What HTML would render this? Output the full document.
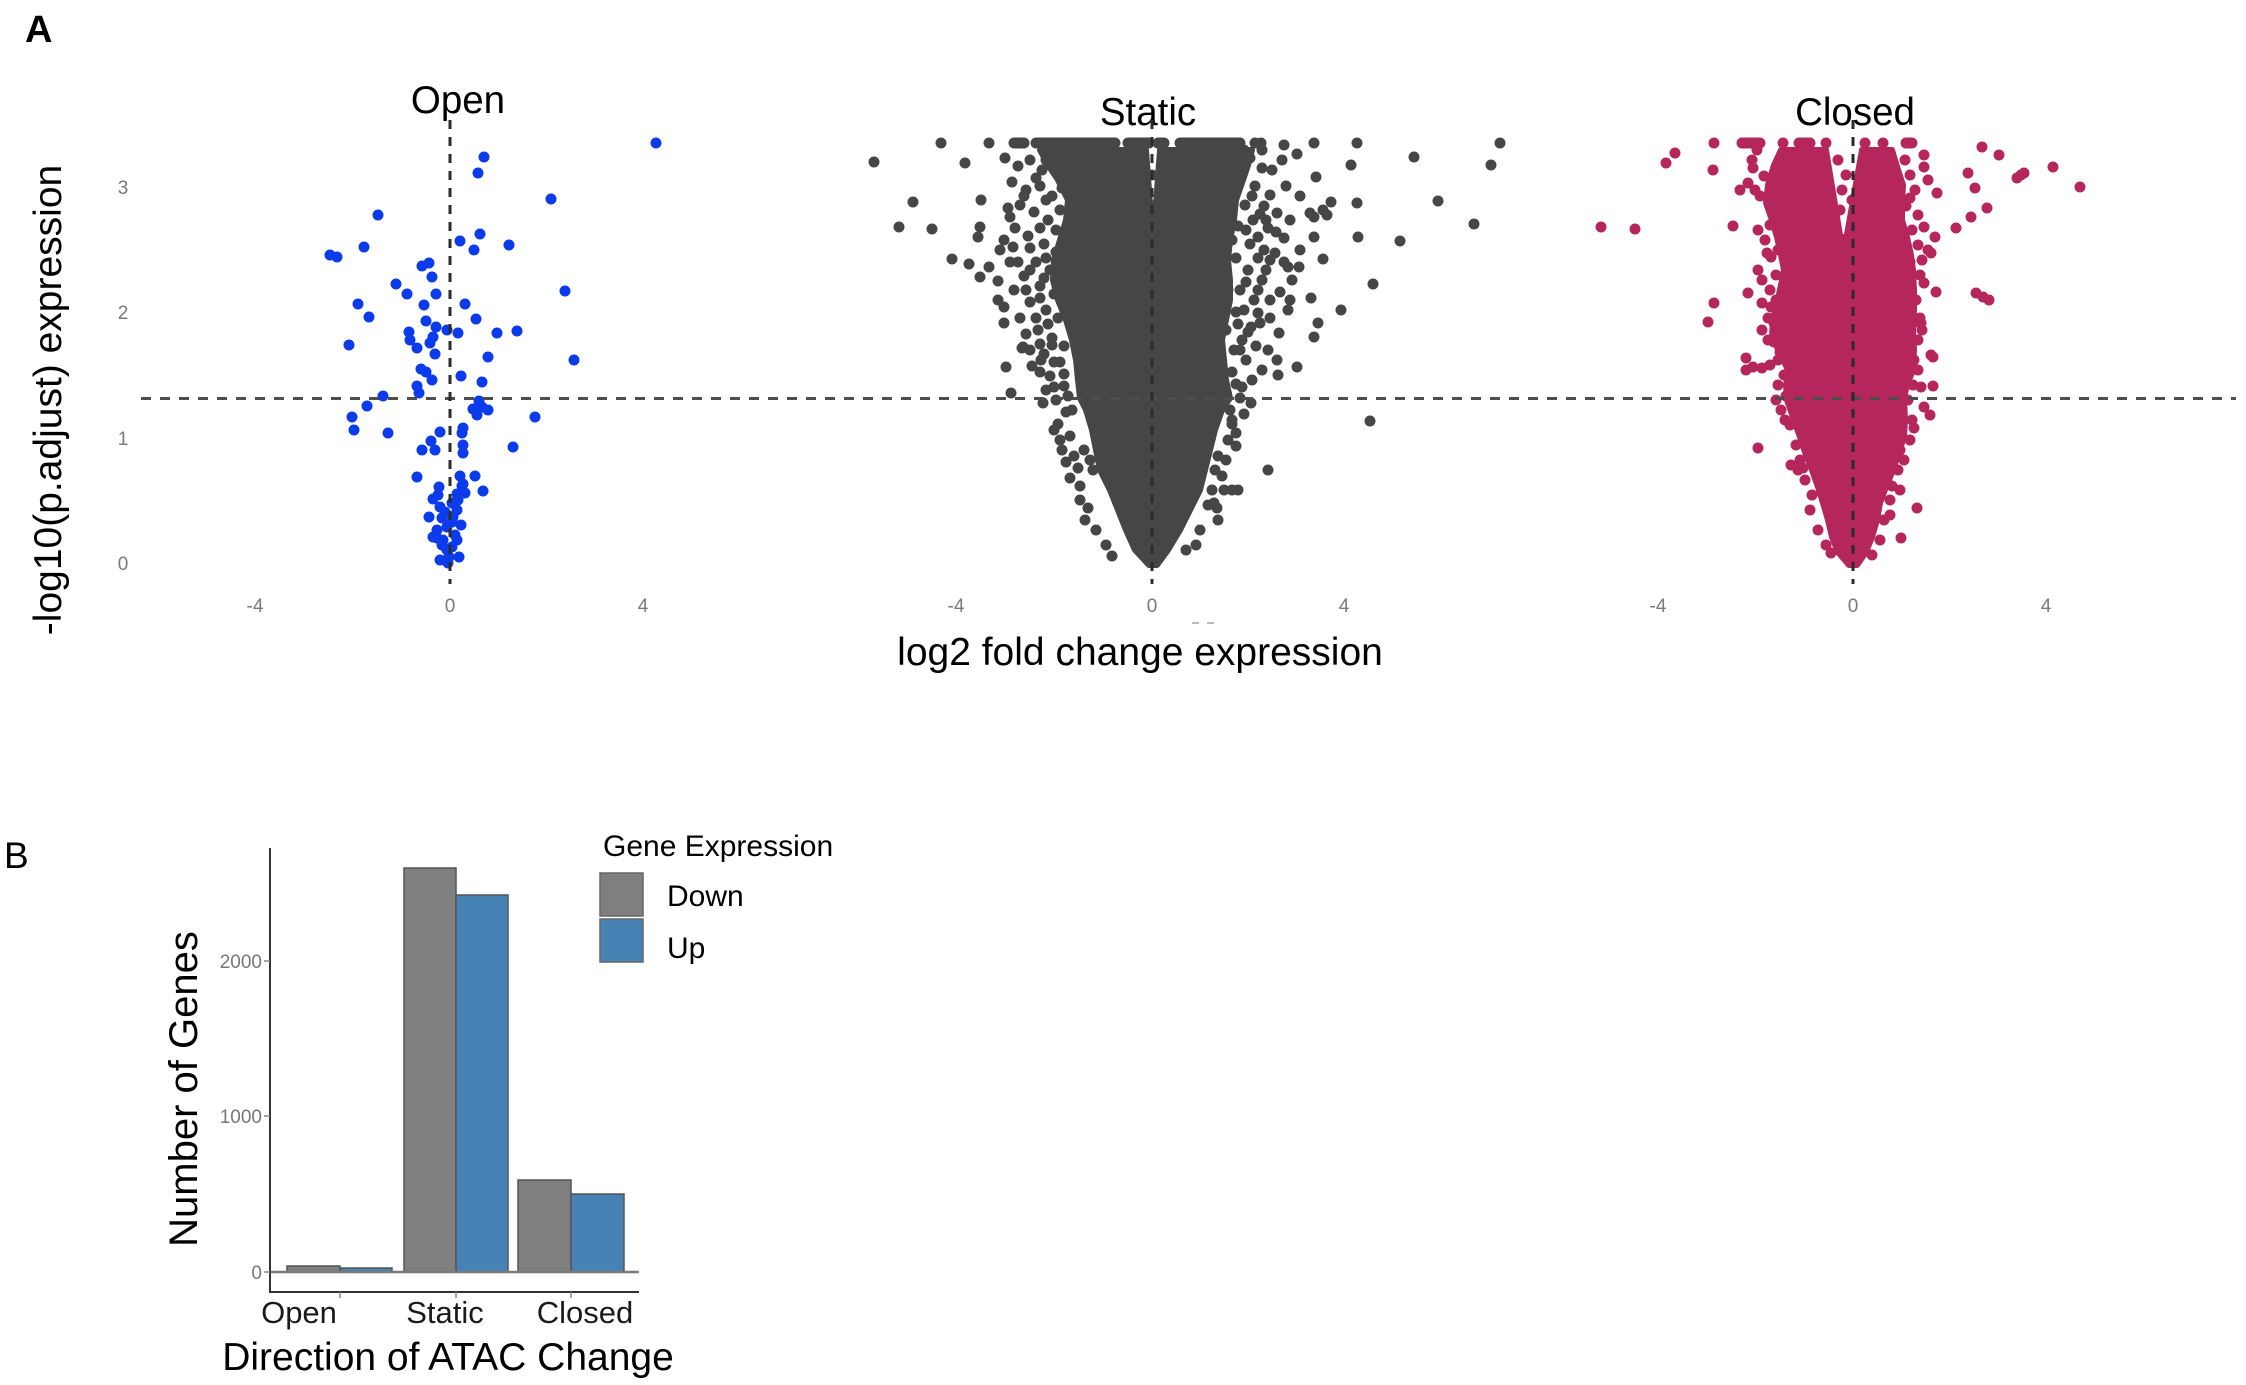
<!DOCTYPE html>
<html>
<head>
<meta charset="utf-8">
<style>
html,body{margin:0;padding:0;background:#fff;}
svg{display:block;}
text{font-family:"Liberation Sans",Arial,sans-serif;}
</style>
</head>
<body>
<svg width="2246" height="1385" viewBox="0 0 2246 1385" xmlns="http://www.w3.org/2000/svg">
<rect x="0" y="0" width="2246" height="1385" fill="#fff"/>

<!-- Panel labels -->
<text x="25" y="42" font-size="38" font-weight="bold" fill="#000">A</text>
<text x="4" y="868" font-size="37" fill="#000">B</text>

<!-- ================= PANEL A ================= -->
<text transform="translate(61,400) rotate(-90)" text-anchor="middle" font-size="39" fill="#000">-log10(p.adjust) expression</text>
<g font-size="19" fill="#7a7a7a" text-anchor="middle">
<text x="123" y="194">3</text>
<text x="123" y="319">2</text>
<text x="123" y="445">1</text>
<text x="123" y="570">0</text>
</g>
<g font-size="19" fill="#7a7a7a" text-anchor="middle">
<text x="255" y="612">-4</text><text x="450" y="612">0</text><text x="643" y="612">4</text>
<text x="956" y="612">-4</text><text x="1152" y="612">0</text><text x="1344" y="612">4</text>
<text x="1658" y="612">-4</text><text x="1853" y="612">0</text><text x="2046" y="612">4</text>
</g>
<g font-size="38.5" fill="#000" text-anchor="middle">
<text x="458" y="113">Open</text>
<text x="1148" y="125">Static</text>
<text x="1855" y="125">Closed</text>
</g>
<text x="1140" y="665" font-size="39" fill="#000" text-anchor="middle">log2 fold change expression</text>
<path d="M1192 623H1199M1207 623H1214" stroke="#bbb" stroke-width="2"/>

<!-- OPEN points -->
<path fill="none" stroke="#0b3bea" stroke-width="11" stroke-linecap="round" d="
M656 143h0M484 157h0M478 173h0M551 199h0M378 215h0M480 234h0M460 241h0M509 245h0M474 250h0M364 247h0
M330 255h0M337 257h0M422 266h0M429 263h0M432 277h0M396 284h0M407 294h0M436 294h0M565 291h0M358 304h0
M424 305h0M465 304h0M369 317h0M476 319h0M426 321h0M436 327h0M409 332h0M447 330h0M458 333h0M497 333h0
M517 331h0M410 340h0M433 337h0M430 343h0M349 345h0M417 348h0M435 354h0M488 357h0M574 360h0M421 369h0
M426 372h0M432 380h0M461 376h0M482 382h0M417 386h0M419 393h0M383 396h0M479 401h0M473 409h0M482 407h0
M488 410h0M477 415h0M367 406h0M352 417h0M535 417h0M354 430h0M388 433h0M440 432h0M463 428h0M462 433h0
M431 441h0M422 450h0M435 450h0M463 445h0M463 453h0M513 447h0M417 477h0M460 476h0M475 476h0M439 487h0
M463 484h0M457 494h0M465 493h0M483 491h0M433 499h0M440 507h0M457 510h0M429 517h0M442 518h0M453 517h0
M461 525h0M447 527h0M433 537h0M443 540h0M455 535h0M442 545h0M452 547h0M449 557h0M459 557h0M448 563h0
M437 530h0M452 503h0M458 500h0M437 538h0M457 540h0M445 512h0M438 495h0M452 522h0M447 550h0M462 486h0M440 560h0"/>

<!-- STATIC core -->
<path fill="#464646" stroke="#464646" stroke-width="6" stroke-linejoin="round" d="
M1040 150 L1146 150 L1153 245 L1160 150 L1252 150 L1248 165 L1243 180 L1236 200 L1234 220 L1230 240 L1228 260 L1230 280 L1230 300 L1226 320 L1222 340 L1224 360 L1226 380 L1230 398 L1222 410 L1215 430 L1210 450 L1205 470 L1200 490 L1190 510 L1180 530 L1168 550 L1157 565 L1149 565 L1135 550 L1126 530 L1118 510 L1110 490 L1100 470 L1096 450 L1092 430 L1086 410 L1080 398 L1078 380 L1076 360 L1072 340 L1066 320 L1058 300 L1053 280 L1054 260 L1060 240 L1066 220 L1068 200 L1058 180 L1048 165 Z"/>
<!-- STATIC scattered points -->
<path fill="none" stroke="#464646" stroke-width="11" stroke-linecap="round" d="
M1014 143H1024M1036 143H1115M1128 143H1149M1158 143H1164M1180 143H1240
M989 143h0M1255 143h0M1261 143h0M941 143h0M1284 145h0
M874 162h0M965 163h0M913 202h0M981 200h0M899 227h0M932 229h0M952 259h0M969 264h0M980 277h0M989 267h0
M998 281h0M1010 217h0M980 227h0M978 237h0M1004 240h0M1013 247h0M1006 367h0M1011 393h0M1004 307h0M1004 323h0
M1023 347h0M1030 350h0M1041 360h0M1052 345h0M1054 387h0M1043 403h0M1054 430h0M1078 468h0M1084 450h0
M1314 143h0M1357 143h0M1500 143h0M1414 157h0M1491 165h0M1351 165h0M1297 154h0M1316 177h0M1438 201h0M1474 224h0
M1357 203h0M1358 237h0M1400 241h0M1314 217h0M1310 213h0M1323 210h0M1331 202h0M1327 215h0M1314 237h0M1323 259h0
M1373 284h0M1311 298h0M1341 310h0M1318 323h0M1314 337h0M1279 333h0M1292 280h0M1288 267h0M1299 267h0M1290 300h0
M1288 310h0M1277 360h0M1278 375h0M1262 370h0M1297 367h0M1370 421h0M1268 470h0M1232 490h0M1238 490h0M1214 503h0
M1217 508h0M1266 220h0M1277 213h0M1268 228h0M1253 220h0M1258 237h0M1264 250h0M1275 253h0M1284 238h0M1258 313h0
M1260 323h0M1251 327h0M1242 340h0M1242 387h0M1251 403h0M1232 420h0M1236 433h0
M1005 158h0M1018 166h0M1030 160h0M1042 170h0M1012 182h0M1026 190h0M1040 186h0M1052 196h0M1020 205h0M1034 212h0
M1048 220h0M1060 210h0M1015 228h0M1028 236h0M1044 244h0M1056 252h0M1036 262h0M1050 270h0M1024 276h0M1040 286h0
M1054 294h0M1030 302h0M1046 310h0M1058 318h0M1020 318h0M1038 330h0M1052 338h0M1064 346h0M1044 354h0M1060 362h0
M1032 366h0M1050 376h0M1064 386h0M1056 400h0M1066 412h0M1058 424h0M1070 436h0M1062 450h0M1008 208h0M1000 250h0
M1010 262h0M1014 290h0M998 300h0M1022 348h0M1070 298h0M1068 262h0M1066 230h0M1062 188h0M1064 168h0
M1072 410h0M1090 460h0M1080 500h0M1085 520h0M1093 470h0M1070 478h0
M1046 160h0M1058 172h0M1036 178h0M1024 196h0M1046 200h0M1056 230h0M1040 228h0M1030 248h0M1046 258h0M1018 262h0
M1030 270h0M1044 278h0M1026 290h0M1040 298h0M1036 318h0M1048 324h0M1026 334h0M1040 344h0M1054 362h0
M1040 372h0M1064 374h0M1068 396h0M1046 390h0M1060 440h0M1074 456h0M1066 462h0M1080 486h0M1088 508h0M1096 530h0
M1106 545h0M1112 556h0
M1250 158h0M1262 168h0M1240 176h0M1255 186h0M1270 195h0M1245 205h0M1260 214h0M1238 226h0M1250 244h0M1236 258h0
M1248 270h0M1262 280h0M1240 290h0M1254 300h0M1236 312h0M1248 332h0M1234 350h0M1246 360h0M1232 372h0M1240 398h0
M1230 410h0M1236 446h0M1226 460h0M1222 476h0M1270 300h0M1280 292h0M1266 270h0M1284 262h0M1300 250h0M1276 232h0
M1290 220h0M1300 196h0M1286 186h0M1272 170h0M1282 160h0M1262 150h0M1244 150h0M1228 190h0M1232 240h0M1228 290h0
M1226 330h0M1232 424h0M1215 470h0M1212 490h0M1208 505h0
M1252 196h0M1264 206h0M1246 230h0M1258 258h0M1270 260h0M1246 282h0M1258 290h0M1244 310h0M1270 318h0M1238 324h0
M1256 346h0M1240 350h0M1268 350h0M1252 380h0M1236 384h0M1244 414h0M1228 440h0M1218 456h0M1224 490h0M1218 520h0
M1200 530h0M1196 545h0M1186 550h0
M1152 175h0M1150 205h0"/>

<!-- CLOSED core -->
<path fill="#b5275c" stroke="#b5275c" stroke-width="6" stroke-linejoin="round" d="
M1781 150 L1826 150 L1840 235 L1846 240 L1862 150 L1892 150 L1898 170 L1903 185 L1902 203 L1902 220 L1907 237 L1911 255 L1913 270 L1914 290 L1914 310 L1913 330 L1914 350 L1913 370 L1907 385 L1904 398 L1905 420 L1904 437 L1898 455 L1893 470 L1886 487 L1880 503 L1877 520 L1872 537 L1866 552 L1857 565 L1849 565 L1838 552 L1832 537 L1828 520 L1823 503 L1818 487 L1812 470 L1806 455 L1800 437 L1794 420 L1787 400 L1786 385 L1788 370 L1781 355 L1772 337 L1773 320 L1777 303 L1781 285 L1784 270 L1781 255 L1777 237 L1772 220 L1766 203 L1768 185 L1774 165 Z"/>
<!-- CLOSED scattered points -->
<path fill="none" stroke="#b5275c" stroke-width="11" stroke-linecap="round" d="
M1742 143H1760M1799 143H1810M1906 143H1912
M1714 143h0M1783 143h0M1826 143h0M1865 143h0M1883 143h0
M1601 227h0M1635 229h0M1666 163h0M1675 153h0M1713 170h0M1733 226h0M1740 190h0M1755 190h0M1752 160h0M1753 168h0
M1982 147h0M1999 155h0M2053 167h0M2021 175h0M2024 173h0M2017 178h0M2080 187h0M1968 173h0M1975 188h0M1987 208h0
M1971 217h0M1956 228h0M1924 155h0M1924 167h0M1928 180h0M1937 193h0M1924 227h0M1935 237h0M1928 250h0M1931 253h0
M1924 283h0M1936 292h0M1976 293h0M1983 297h0M1989 300h0M1915 322h0M1921 323h0M1931 355h0M1933 357h0M1921 387h0
M1933 386h0M1924 407h0M1930 415h0M1914 428h0M1917 508h0M1901 538h0M1831 553h0M1758 448h0M1791 465h0M1803 468h0
M1714 303h0M1708 322h0M1748 293h0M1758 270h0M1767 253h0M1771 257h0M1746 358h0M1746 370h0M1753 367h0M1762 368h0
M1774 323h0M1774 342h0M1778 360h0M1776 400h0M1762 303h0M1771 307h0
M1757 150h0M1764 176h0M1748 183h0M1760 196h0M1772 212h0M1758 230h0M1765 240h0M1778 250h0M1762 280h0M1770 290h0
M1776 275h0M1783 330h0M1768 340h0M1784 375h0M1778 385h0M1781 410h0M1790 425h0M1796 445h0M1800 460h0M1805 480h0M1812 495h0
M1905 160h0M1910 175h0M1915 190h0M1906 206h0M1912 230h0M1918 245h0M1910 262h0M1920 275h0M1916 300h0M1918 340h0
M1914 360h0M1908 400h0M1912 420h0M1900 450h0M1898 470h0M1892 486h0M1890 500h0M1884 520h0
M1776 196h0M1770 225h0M1785 228h0M1790 262h0M1776 300h0M1768 318h0M1785 315h0M1762 330h0M1780 352h0M1770 365h0
M1786 396h0M1794 410h0M1785 420h0M1798 470h0M1810 510h0M1818 530h0M1826 545h0
M1910 198h0M1918 215h0M1922 260h0M1920 318h0M1922 330h0M1918 370h0M1913 385h0M1910 440h0M1904 460h0M1900 490h0
M1890 515h0M1880 540h0M1872 555h0
M1838 160h0M1846 175h0M1852 200h0M1840 210h0M1856 230h0M1848 250h0M1842 190h0"/>

<!-- dashed reference lines -->
<path d="M141 398.5H2236" stroke="#4d4d4d" stroke-width="3" stroke-dasharray="10 9" fill="none"/>
<path d="M450 120V584M1152 120V584M1853 120V584" stroke="#2b2b2b" stroke-width="3" stroke-dasharray="9 8" fill="none"/>

<!-- ================= PANEL B ================= -->
<g stroke="#555" stroke-width="1.5">
<rect x="287" y="1266" width="53" height="6" fill="#7f7f7f"/>
<rect x="340" y="1268" width="52" height="4" fill="#4682b4"/>
<rect x="404" y="868" width="52" height="404" fill="#7f7f7f"/>
<rect x="456" y="895" width="52" height="377" fill="#4682b4"/>
<rect x="518" y="1180" width="53" height="92" fill="#7f7f7f"/>
<rect x="571" y="1194" width="53" height="78" fill="#4682b4"/>
</g>
<path d="M270 1272H639" stroke="#7a7a7a" stroke-width="2.5"/>
<path d="M270 848V1292H639" stroke="#333" stroke-width="2" fill="none"/>
<path d="M264 961H270M264 1116H270M264 1272H270M340 1292V1298M456 1292V1298M571 1292V1298" stroke="#888" stroke-width="1.5"/>
<g font-size="19" fill="#777" text-anchor="end">
<text x="262" y="968">2000</text>
<text x="262" y="1123">1000</text>
<text x="262" y="1279">0</text>
</g>
<g font-size="31" fill="#1a1a1a" text-anchor="middle">
<text x="299" y="1323">Open</text>
<text x="445" y="1323">Static</text>
<text x="585" y="1323">Closed</text>
</g>
<text x="448" y="1370" font-size="39" fill="#000" text-anchor="middle">Direction of ATAC Change</text>
<text transform="translate(197,1089) rotate(-90)" text-anchor="middle" font-size="40" fill="#000">Number of Genes</text>

<text x="603" y="856" font-size="30" fill="#000">Gene Expression</text>
<rect x="600" y="873" width="43" height="43" fill="#7f7f7f" stroke="#666" stroke-width="1.5"/>
<rect x="600" y="919" width="43" height="43" fill="#4682b4" stroke="#666" stroke-width="1.5"/>
<text x="667" y="906" font-size="30" fill="#000">Down</text>
<text x="667" y="958" font-size="30" fill="#000">Up</text>
</svg>
</body>
</html>
